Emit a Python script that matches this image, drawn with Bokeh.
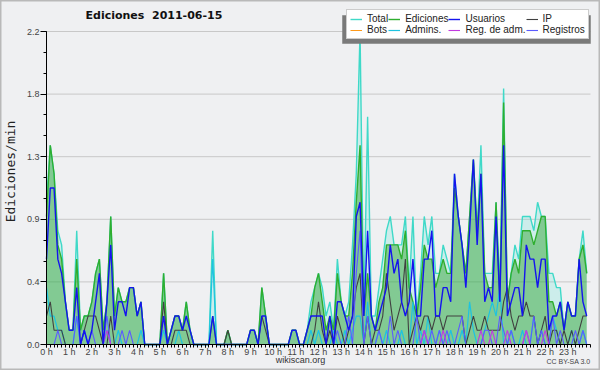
import numpy as np
from bokeh.plotting import figure
from bokeh.models import ColumnDataSource, FixedTicker, Legend, LegendItem, Label, Range1d
from bokeh.embed import file_html
from bokeh.resources import INLINE

# ---- data: edits per minute, 10-minute bins, 2011-06-15 ----
hours = [i / 6 for i in range(144)]

total = [
    1.0, 1.4, 1.2, 0.8, 0.7, 0.3, 0.1, 0.1, 0.8, 0.1, 0.2, 0.2, 0.3, 0.5, 0.6, 0.1, 0.3, 0.9, 0.2, 0.4,
    0.3, 0.3, 0.4, 0.4, 0.2, 0.3, 0, 0, 0, 0, 0, 0.5, 0, 0.1, 0.2, 0.2,
    0.1, 0.3, 0.1, 0, 0, 0, 0, 0, 0.8, 0, 0, 0, 0.1, 0, 0, 0, 0, 0, 0.1, 0.1,
    0, 0.4, 0.2, 0, 0, 0, 0, 0, 0, 0.1, 0.1, 0, 0, 0.1, 0.3, 0.4,
    0.5, 0.4, 0.2, 0.3, 0.1, 0.6, 0.3, 0.2, 0.3, 0.7, 1.2, 2.2, 0.2, 1.6, 0.2, 0.2, 0.4, 0.6, 0.8, 0.9,
    0.7, 0.7, 0.7, 0.9, 0.4, 0.9, 0.2, 0.5, 0.9, 0.7, 0.9, 0.5, 0.5, 0.7, 0.6, 0.5,
    1.2, 0.9, 0.7, 0.5, 0.9, 1.3, 0.8, 1.4, 0.5, 0.5, 0.5, 1.0, 0.4, 1.8, 0.3, 0.5, 0.7, 0.6, 0.9, 0.9,
    0.9, 0.8, 1.0, 0.9, 0.9, 0.5, 0.5, 0.4, 0.4, 0.1, 0.3, 0.2, 0.2, 0.6, 0.8, 0.5,
]
ediciones = [
    0.9, 1.4, 1.2, 0.7, 0.6, 0.3, 0.1, 0.1, 0.6, 0.1, 0.2, 0.2, 0.3, 0.5, 0.6, 0.1, 0.3, 0.9, 0.2, 0.4,
    0.3, 0.3, 0.4, 0.4, 0.2, 0.3, 0, 0, 0, 0, 0, 0.5, 0, 0.1, 0.2, 0.2,
    0.1, 0.3, 0.1, 0, 0, 0, 0, 0, 0.2, 0, 0, 0, 0.1, 0, 0, 0, 0, 0, 0.1, 0.1,
    0, 0.4, 0.2, 0, 0, 0, 0, 0, 0, 0.1, 0.1, 0, 0, 0.1, 0.2, 0.4,
    0.5, 0.3, 0.1, 0.2, 0.1, 0.5, 0.3, 0.2, 0.2, 0.5, 1.0, 1.4, 0.2, 0.5, 0.2, 0.1, 0.3, 0.4, 0.7, 0.7,
    0.7, 0.7, 0.6, 0.8, 0.4, 0.3, 0.2, 0.4, 0.7, 0.6, 0.6, 0.4, 0.5, 0.6, 0.5, 0.5,
    1.1, 0.9, 0.7, 0.5, 0.9, 1.3, 0.8, 1.2, 0.5, 0.4, 0.4, 1.0, 0.3, 1.7, 0.3, 0.5, 0.6, 0.5, 0.8, 0.8,
    0.8, 0.7, 0.8, 0.9, 0.9, 0.3, 0.3, 0.2, 0.3, 0.1, 0.3, 0.2, 0.2, 0.6, 0.7, 0.5,
]
usuarios = [
    0.6, 1.1, 1.1, 0.6, 0.5, 0.3, 0.1, 0.1, 0.4, 0, 0.1, 0, 0.1, 0.3, 0.5, 0, 0.3, 0.7, 0.1, 0.3,
    0.3, 0.2, 0.4, 0.4, 0.2, 0.3, 0, 0, 0, 0, 0, 0.2, 0, 0.1, 0.2, 0.2,
    0.1, 0.2, 0.1, 0, 0, 0, 0, 0, 0.2, 0, 0, 0, 0, 0, 0, 0, 0, 0, 0.1, 0.1,
    0, 0.2, 0.2, 0, 0, 0, 0, 0, 0, 0.1, 0.1, 0, 0, 0.1, 0.2, 0.2,
    0.2, 0.2, 0, 0.2, 0, 0.3, 0.3, 0.2, 0.1, 0.2, 0.9, 1.0, 0.2, 0.8, 0.2, 0.1, 0.2, 0.3, 0.4, 0.7,
    0.5, 0.6, 0.3, 0.2, 0.3, 0.6, 0.2, 0.2, 0.6, 0.6, 0.8, 0.2, 0.2, 0.4, 0.4, 0.3,
    1.2, 0.9, 0.7, 0.4, 0.8, 1.3, 0.7, 1.2, 0.3, 0.4, 0.3, 0.9, 0.3, 1.4, 0.2, 0.3, 0.4, 0.4, 0.2, 0.7,
    0.6, 0.6, 0.4, 0.6, 0.6, 0.1, 0.2, 0.2, 0.3, 0.1, 0.3, 0.2, 0.2, 0.6, 0.3, 0.2,
]
ip = [
    0.2, 0.3, 0.1, 0.1, 0.1, 0, 0, 0, 0, 0, 0.1, 0.2, 0.2, 0.2, 0.1, 0, 0, 0.2, 0, 0,
    0, 0, 0, 0, 0, 0, 0, 0, 0, 0, 0, 0.3, 0, 0, 0.1, 0.1,
    0.1, 0.1, 0, 0, 0, 0, 0, 0, 0, 0, 0, 0, 0.1, 0, 0, 0, 0, 0, 0, 0,
    0, 0.2, 0.1, 0, 0, 0, 0, 0, 0, 0, 0, 0, 0, 0, 0, 0.1,
    0.3, 0.1, 0, 0.1, 0, 0.2, 0.1, 0, 0.1, 0.2, 0.4, 0.5, 0, 0.2, 0, 0.1, 0.1, 0.2, 0.5, 0.3,
    0.1, 0.2, 0.3, 0.6, 0, 0.1, 0.2, 0.1, 0.2, 0.2, 0.1, 0.2, 0.2, 0.1, 0.2, 0.2,
    0.2, 0.2, 0.2, 0, 0.1, 0.2, 0.1, 0.1, 0.2, 0.1, 0.1, 0.1, 0.1, 0.3, 0.4, 0.2, 0.1, 0.2, 0.2, 0.3,
    0.2, 0.2, 0, 0.1, 0.2, 0, 0.1, 0.1, 0, 0.1, 0, 0.1, 0, 0.1, 0.2, 0.2,
]
bots = [0] * 144
admins = [
    0.4, 0.2, 0.2, 0.1, 0.1, 0, 0, 0, 0.2, 0, 0.1, 0, 0, 0, 0, 0, 0.1, 0, 0, 0.1,
    0, 0, 0, 0, 0, 0.1, 0, 0, 0, 0, 0, 0.1, 0, 0, 0, 0.1,
    0, 0, 0, 0, 0, 0, 0, 0, 0.6, 0, 0, 0, 0, 0, 0, 0, 0, 0, 0, 0,
    0, 0, 0, 0, 0, 0, 0, 0, 0, 0, 0, 0, 0, 0, 0.1, 0,
    0.1, 0, 0, 0, 0.1, 0, 0, 0.1, 0, 0.1, 0.2, 0.2, 0, 0.3, 0, 0, 0.1, 0, 0.1, 0,
    0, 0, 0.1, 0, 0, 0.3, 0, 0.1, 0, 0.2, 0, 0, 0.1, 0, 0, 0.1,
    0, 0, 0.1, 0, 0.3, 0.1, 0, 0, 0.1, 0.2, 0.3, 0.2, 0.4, 0, 0, 0.1, 0, 0, 0.1, 0,
    0, 0.2, 0, 0.1, 0, 0, 0.2, 0.1, 0, 0, 0, 0.1, 0, 0, 0.1, 0,
]
reg_adm = [
    0, 0, 0, 0, 0, 0, 0, 0, 0, 0, 0, 0, 0, 0, 0, 0, 0.1, 0, 0, 0,
    0, 0, 0, 0, 0, 0, 0, 0, 0, 0, 0, 0, 0, 0, 0, 0,
    0, 0, 0, 0, 0, 0, 0, 0, 0, 0, 0, 0, 0, 0, 0, 0, 0, 0, 0, 0,
    0, 0, 0, 0, 0, 0, 0, 0, 0, 0, 0, 0, 0, 0, 0, 0,
    0, 0, 0, 0, 0, 0, 0, 0, 0, 0, 0, 0, 0, 0, 0, 0, 0, 0, 0, 0,
    0, 0, 0, 0, 0, 0, 0, 0, 0.1, 0, 0, 0, 0, 0.1, 0, 0,
    0, 0, 0, 0, 0, 0, 0, 0.1, 0, 0, 0.1, 0, 0, 0, 0.1, 0, 0, 0, 0, 0.1,
    0, 0, 0, 0, 0.1, 0, 0, 0, 0, 0, 0, 0, 0, 0, 0, 0,
]
registros = [
    0, 0, 0, 0.1, 0, 0, 0, 0, 0.2, 0, 0.1, 0, 0.1, 0, 0, 0, 0.2, 0, 0, 0,
    0.1, 0, 0.1, 0, 0, 0, 0, 0, 0, 0, 0, 0, 0, 0, 0, 0,
    0, 0, 0, 0, 0, 0, 0, 0, 0, 0, 0, 0, 0, 0, 0, 0, 0, 0, 0, 0,
    0, 0, 0, 0, 0, 0, 0, 0, 0, 0, 0, 0, 0, 0, 0, 0,
    0, 0, 0, 0, 0, 0.1, 0, 0, 0.2, 0, 0.5, 0.8, 0, 0.2, 0, 0, 0.1, 0, 0, 0.2,
    0, 0.1, 0, 0, 0, 0, 0.2, 0, 0.1, 0, 0.1, 0, 0.1, 0, 0.1, 0,
    0, 0.1, 0.2, 0, 0, 0, 0, 0, 0.1, 0.1, 0, 0, 0.2, 0.1, 0, 0.1, 0, 0, 0, 0.1,
    0, 0.2, 0, 0.1, 0, 0, 0.2, 0, 0.1, 0, 0, 0, 0.1, 0, 0.1, 0,
]

x_ticks = list(range(24))
x_tick_labels = ["0 h", "1 h", "2 h", "3 h", "4 h", "5 h", "6 h", "7 h", "8 h", "9 h", "10 h", "11 h",
                 "12 h", "13 h", "14 h", "15 h", "16 h", "17 h", "18 h", "19 h", "20 h", "21 h", "22 h", "23 h"]
y_ticks = [0.0, 0.44, 0.88, 1.32, 1.76, 2.2]
y_tick_labels = ["0.0", "0.4", "0.9", "1.3", "1.8", "2.2"]

legend_names = ["Total", "Ediciones", "Usuarios", "IP", "Bots", "Admins.", "Reg. de adm.", "Registros"]
colors = {
    "Total": "#3fd9c8", "Ediciones": "#2fae2f", "Usuarios": "#1414ee", "IP": "#404040",
    "Bots": "#ff9a1a", "Admins.": "#1ec3e0", "Reg. de adm.": "#c23ae0", "Registros": "#5b5bff",
}

src = ColumnDataSource(dict(x=hours, total=total, ediciones=ediciones, usuarios=usuarios, ip=ip,
                            bots=bots, admins=admins, reg_adm=reg_adm, registros=registros))

FONT = "Liberation Sans"
W, H = 600, 370
# plot area inside the canvas: x 46..590 px <-> 0..24 h, y 344..31 px <-> 0..2.2
XPX = 544 / 24.0
YPX = 313 / 2.2
p = figure(width=W, height=H,
           x_range=Range1d(-46 / XPX, 24 + (W - 590) / XPX),
           y_range=Range1d(-(H - 344) / YPX, 2.2 + 31 / YPX),
           output_backend="svg", toolbar_location=None,
           min_border_left=0, min_border_right=0, min_border_top=0, min_border_bottom=0)
p.title.visible = False
p.background_fill_color = "#eff0f2"
p.border_fill_color = "#eff0f2"
p.outline_line_color = "#b9b9b9"
p.outline_line_width = 2


def px_x(px):
    return (px - 46) / XPX


def px_y(py):
    return (344 - py) / YPX


# horizontal grid lines at the y ticks, only across the plotted day
p.segment(x0=0, x1=24, y0=y_ticks[1:], y1=y_ticks[1:], line_color="#c8c8c8", line_width=1)

# areas
p.varea(x="x", y1=0, y2="total", source=src, fill_color="#40e0d0", fill_alpha=0.2)
p.varea(x="x", y1=0, y2="ediciones", source=src, fill_color="#28a028", fill_alpha=0.45)

r = {}
r["Total"] = p.line("x", "total", source=src, line_color=colors["Total"], line_width=1.4)
r["Ediciones"] = p.line("x", "ediciones", source=src, line_color=colors["Ediciones"], line_width=1.4)
r["Bots"] = p.line("x", "bots", source=src, line_color=colors["Bots"], line_width=1)
r["Admins."] = p.line("x", "admins", source=src, line_color=colors["Admins."], line_width=1.2)
r["IP"] = p.line("x", "ip", source=src, line_color=colors["IP"], line_width=1.1)
r["Registros"] = p.line("x", "registros", source=src, line_color=colors["Registros"], line_width=1.1)
r["Reg. de adm."] = p.line("x", "reg_adm", source=src, line_color=colors["Reg. de adm."], line_width=1.1)
r["Usuarios"] = p.line("x", "usuarios", source=src, line_color=colors["Usuarios"], line_width=1.4)

# legend drop shadow (plain box drawn above the data, under the legend)
shadow_src = ColumnDataSource(dict(left=[px_x(342)], right=[px_x(590)], top=[px_y(15)], bottom=[px_y(43)]))
p.quad(left="left", right="right", top="top", bottom="bottom", source=shadow_src,
       fill_color="#7a7a7a", fill_alpha=1.0, line_color="#7a7a7a", line_width=0.5)

# axes, drawn at the data origin inside the canvas
p.xgrid.visible = False
p.ygrid.visible = False
p.xaxis.fixed_location = 0
p.yaxis.fixed_location = 0
p.xaxis.bounds = (0, 24)
p.yaxis.bounds = (0, 2.2)

p.xaxis.ticker = FixedTicker(ticks=x_ticks, minor_ticks=[i / 6 for i in range(145)])
p.xaxis.major_label_overrides = {t: l for t, l in zip(x_ticks, x_tick_labels)}
p.yaxis.ticker = FixedTicker(ticks=y_ticks, minor_ticks=[k * 0.44 / 3 for k in range(16)])
p.yaxis.major_label_overrides = {t: l for t, l in zip(y_ticks, y_tick_labels)}

for ax in (p.xaxis[0], p.yaxis[0]):
    ax.axis_line_color = "black"
    ax.major_tick_line_color = "black"
    ax.minor_tick_line_color = "black"
    ax.major_tick_in = 0
    ax.minor_tick_in = 0
    ax.major_label_text_font = FONT
    ax.major_label_text_font_size = "9px"
    ax.major_label_text_color = "#444444"
p.xaxis.major_tick_out = 3
p.xaxis.minor_tick_out = 3
p.xaxis.major_label_standoff = -1
p.yaxis.major_tick_out = 6
p.yaxis.minor_tick_out = 3
p.yaxis.major_label_standoff = 1

legend = Legend(items=[LegendItem(label=n, renderers=[r[n]]) for n in legend_names],
                location=(346, H - 39), orientation="horizontal", ncols=4,
                background_fill_color="white", background_fill_alpha=1, border_line_color="#9a9a9a",
                label_text_font=FONT, label_text_font_size="10px", label_text_color="#222222",
                glyph_width=12, glyph_height=10, label_height=10, label_standoff=5,
                spacing=0, padding=3, margin=0)
p.add_layout(legend)

# texts
p.add_layout(Label(x=85, y=H - 21, x_units="screen", y_units="screen", text="Ediciones\u00a0 2011-06-15",
                   text_font="DejaVu Sans", text_font_style="bold", text_font_size="11px", text_color="#111111"))
p.add_layout(Label(x=10, y=H - 171, x_units="screen", y_units="screen", text="Ediciones/min", angle=np.pi / 2,
                   text_align="center", text_baseline="middle",
                   text_font="DejaVu Sans Mono", text_font_size="13px", text_color="#222222"))
p.add_layout(Label(x=300, y=6, x_units="screen", y_units="screen", text="wikiscan.org", text_align="center",
                   text_font=FONT, text_font_size="9px", text_color="#333333"))
p.add_layout(Label(x=590, y=6, x_units="screen", y_units="screen", text="CC BY-SA 3.0", text_align="right",
                   text_font=FONT, text_font_size="7px", text_color="#444444"))

open("out.html", "w").write(file_html(p, INLINE))
